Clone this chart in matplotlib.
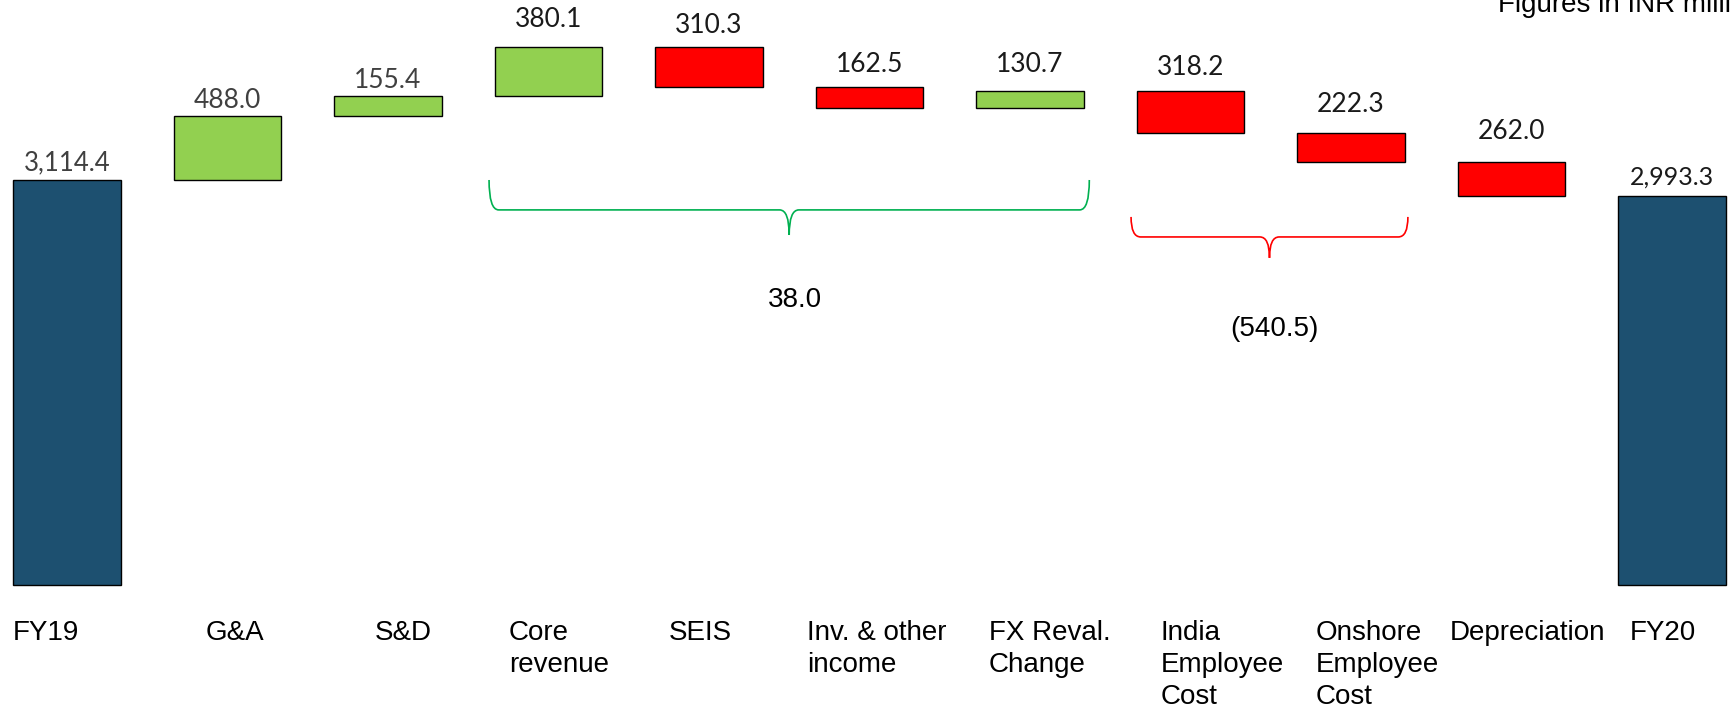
import matplotlib
matplotlib.use("Agg")
import matplotlib.pyplot as plt
from matplotlib.path import Path
from matplotlib.patches import PathPatch
import numpy as np

# ---- data ----
categories = ["FY19", "G&A", "S&D", "Core\nrevenue", "SEIS", "Inv. & other\nincome",
              "FX Reval.\nChange", "India\nEmployee\nCost", "Onshore\nEmployee\nCost",
              "Depreciation", "FY20"]
start_value = 3114.4
changes = [488.0, 155.4, 380.1, -310.3, -162.5, 130.7, -318.2, -222.3, -262.0]
end_value = 2993.3
value_labels = ["3,114.4", "488.0", "155.4", "380.1", "310.3", "162.5", "130.7",
                "318.2", "222.3", "262.0", "2,993.3"]
group_green = (3, 6, "38.0")       # Core revenue .. FX Reval. Change
group_red = (7, 8, "(540.5)")      # India .. Onshore employee cost
note = "Figures in INR million"

# ---- style / layout ----
C_TOTAL = "#1D5070"
C_UP = "#92D050"
C_DOWN = "#FF0000"
label_dx = [-0.336, -0.134, -0.081, -0.246, -0.25, -0.389, -0.255, -0.184, -0.218, -0.383, -0.262]
value_dy = [12.2, 11.5, 11.5, 19.4, 15.5, 16.2, 19.4, 17.0, 20.2, 21.6, 13.7]
value_sizes = [18.5, 19, 19, 19, 19, 19, 19, 19, 19, 19, 18]
value_colors = ["#404040", "#404040", "#404040"] + ["#1a1a1a"] * 8

fig = plt.figure(figsize=(17.31, 7.08), dpi=100)
ax = fig.add_axes([0, 0, 1, 1])
ax.set_xlim(-0.417, 10.368)
ax.set_ylim(-946, 4498)
ax.axis("off")

n = len(categories)
x = np.arange(n)
bottoms, heights, colors, tops = [], [], [], []
bottoms.append(0); heights.append(start_value); colors.append(C_TOTAL); tops.append(start_value)
level = start_value
for c in changes:
    new = level + c
    bottoms.append(min(level, new)); heights.append(abs(c))
    colors.append(C_UP if c > 0 else C_DOWN); tops.append(max(level, new))
    level = new
bottoms.append(0); heights.append(end_value); colors.append(C_TOTAL); tops.append(end_value)

ax.bar(x, heights, bottom=bottoms, width=0.67, color=colors, edgecolor="black", linewidth=1.0)

for i in range(n):
    ax.annotate(value_labels[i], (x[i], tops[i]), xytext=(0, value_dy[i]), textcoords="offset points",
                ha="center", va="center", fontsize=value_sizes[i], family="Lato", color=value_colors[i])
    ax.text(x[i] + label_dx[i], -268, categories[i], ha="left", va="top", fontsize=20,
            family="Liberation Sans", color="black", linespacing=1.3)


def brace(x0, x1, ytop, ymid, ytip, color):
    xc = (x0 + x1) / 2
    dx = 0.06
    verts = [(x0, ytop), (x0, ymid), (x0 + dx, ymid),
             (xc - dx, ymid), (xc, ymid), (xc, ytip),
             (xc, ymid), (xc + dx, ymid),
             (x1 - dx, ymid), (x1, ymid), (x1, ytop)]
    codes = [Path.MOVETO, Path.CURVE3, Path.CURVE3,
             Path.LINETO, Path.CURVE3, Path.CURVE3,
             Path.CURVE3, Path.CURVE3,
             Path.LINETO, Path.CURVE3, Path.CURVE3]
    ax.add_patch(PathPatch(Path(verts, codes), facecolor="none", edgecolor=color, lw=1.2))


g0, g1, gtxt = group_green
brace(x[g0] - 0.37, x[g1] + 0.37, 3114, 2884, 2691, "#00B050")
ax.text((x[g0] + x[g1]) / 2 + 0.036, 2192, gtxt, ha="center", va="center", fontsize=20,
        family="Liberation Sans", color="black")
r0, r1, rtxt = group_red
brace(x[r0] - 0.37, x[r1] + 0.355, 2830, 2676, 2515, "#FF0000")
ax.text((x[r0] + x[r1]) / 2 + 0.026, 1969, rtxt, ha="center", va="center", fontsize=20,
        family="Liberation Sans", color="black")

fig.text(1498 / 1731, 1 - 12 / 708, note, ha="left", va="baseline", fontsize=20,
         family="Liberation Sans", color="black")

fig.savefig("out.png", dpi=100)
